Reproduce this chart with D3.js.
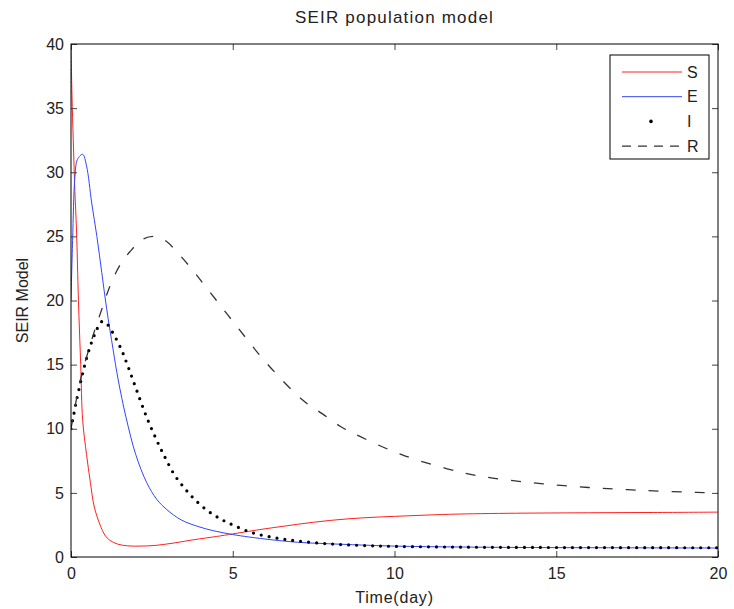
<!DOCTYPE html>
<html>
<head>
<meta charset="utf-8">
<script src="https://cdn.jsdelivr.net/npm/d3@7"></script>
<style>
  body { margin: 0; background: #fff; }
  svg text { font-family: "Liberation Sans", Arial, Helvetica, sans-serif; fill: #222; }
</style>
</head>
<body>
<div id="chart"></div>
<script>
// [time (day), value]
const sData = [[0,40],[0.03,36],[0.07,32.5],[0.12,28.5],[0.17,25.5],[0.23,20],[0.3,15],[0.36,10.7],
  [0.48,8.0],[0.6,5.8],[0.72,3.9],[0.9,2.5],[1.05,1.7],[1.2,1.3],[1.45,1.0],[1.75,0.87],[2.1,0.85],
  [2.6,0.9],[3.2,1.1],[3.8,1.35],[4.5,1.6],[5,1.8],[6,2.2],[7,2.55],[8,2.85],[9,3.05],[10,3.17],
  [11,3.27],[12,3.35],[14,3.42],[16,3.45],[18,3.47],[20,3.5]];
const eData = [[0,20],[0.05,24.7],[0.12,29.6],[0.2,31.0],[0.36,31.4],[0.48,30.5],[0.64,27.6],[0.8,25.0],
  [0.95,22.2],[1.1,19.4],[1.3,16.2],[1.46,13.8],[1.7,10.9],[2.0,8.0],[2.34,5.8],[2.65,4.5],[2.96,3.7],
  [3.4,2.9],[3.9,2.4],[4.4,2.05],[5,1.75],[5.5,1.56],[6.25,1.33],[7,1.15],[8.3,1.0],[10,0.85],
  [12,0.78],[14,0.74],[17,0.72],[20,0.7]];
const iData = [[0,10],[0.07,10.9],[0.17,12.2],[0.33,14.0],[0.45,15.2],[0.59,16.4],[0.74,17.4],[0.95,18.35],
  [1.1,18.2],[1.31,17.4],[1.57,16.1],[1.77,14.8],[2.03,13.0],[2.34,10.9],[2.65,9.1],[2.9,7.8],[3.2,6.4],
  [3.5,5.4],[3.8,4.55],[4.2,3.65],[4.6,3.0],[5.0,2.5],[5.6,1.9],[6.3,1.5],[7,1.25],[8,1.02],[9,0.9],
  [10,0.83],[12,0.77],[15,0.74],[20,0.72]];
const rData = [[0,10],[0.3,13.9],[0.6,16.6],[0.8,18.2],[0.95,19.3],[1.2,21.1],[1.5,22.7],[1.82,23.8],
  [2.2,24.75],[2.55,25.0],[2.9,24.7],[3.27,23.8],[3.75,22.4],[4.25,20.8],[5.12,18.0],[6.05,15.1],
  [7.18,12.2],[7.75,11.2],[8.32,10.2],[8.93,9.4],[10.2,8.0],[11.6,6.9],[12.54,6.35],[13.5,6.0],
  [14.6,5.7],[16,5.42],[16.97,5.28],[18,5.16],[19.34,5.04],[20,5.0]];

const seriesNames = ["S", "E", "I", "R"];
const xTicks = [0, 5, 10, 15, 20];
const yTicks = [0, 5, 10, 15, 20, 25, 30, 35, 40];

const width = 734, height = 609;
const margin = { left: 71, right: 16, top: 44, bottom: 52 };
const iw = width - margin.left - margin.right;
const ih = height - margin.top - margin.bottom;

const svg = d3.select("#chart").append("svg")
    .attr("width", width)
    .attr("height", height);
const g = svg.append("g")
    .attr("transform", `translate(${margin.left},${margin.top})`);

const x = d3.scaleLinear().domain([0, 20]).range([0, iw]);
const y = d3.scaleLinear().domain([0, 40]).range([ih, 0]);

// clip so curves stay inside the axes box
svg.append("defs").append("clipPath").attr("id", "clip")
    .append("rect").attr("width", iw).attr("height", ih);

const line = d3.line()
    .x(d => x(d[0]))
    .y(d => y(d[1]))
    .curve(d3.curveCatmullRom.alpha(0.5));

const styles = [
    { data: sData, stroke: "#ff2020", width: 1, dash: null, cap: "butt" },
    { data: eData, stroke: "#3344ff", width: 1, dash: null, cap: "butt" },
    { data: iData, stroke: "#000", width: 3.2, dash: "0,8", cap: "round" },
    { data: rData, stroke: "#333", width: 1.3, dash: "10,13", cap: "butt" }
];

const plot = g.append("g").attr("clip-path", "url(#clip)");
styles.forEach(s => {
    plot.append("path")
        .datum(s.data)
        .attr("d", line)
        .attr("fill", "none")
        .attr("stroke", s.stroke)
        .attr("stroke-width", s.width)
        .attr("stroke-linecap", s.cap)
        .attr("stroke-dasharray", s.dash);
});

// axes: ticks point inward, labels on left and bottom only
const tickLen = 6;
g.append("g")
    .attr("transform", `translate(0,${ih})`)
    .call(d3.axisBottom(x).tickValues(xTicks).tickSizeInner(-tickLen).tickSizeOuter(0).tickPadding(11))
    .call(a => a.select(".domain").remove())
    .call(a => a.selectAll("text").attr("font-size", 16));
g.append("g")
    .call(d3.axisTop(x).tickValues(xTicks).tickSizeInner(-tickLen).tickSizeOuter(0).tickFormat(""))
    .call(a => a.select(".domain").remove());
g.append("g")
    .call(d3.axisLeft(y).tickValues(yTicks).tickSizeInner(-tickLen).tickSizeOuter(0).tickPadding(7))
    .call(a => a.select(".domain").remove())
    .call(a => a.selectAll("text").attr("font-size", 16));
g.append("g")
    .attr("transform", `translate(${iw},0)`)
    .call(d3.axisRight(y).tickValues(yTicks).tickSizeInner(-tickLen).tickSizeOuter(0).tickFormat(""))
    .call(a => a.select(".domain").remove());
g.selectAll(".tick line").attr("stroke", "#444");

g.append("rect")
    .attr("width", iw)
    .attr("height", ih)
    .attr("fill", "none")
    .attr("stroke", "#000")
    .attr("stroke-width", 1);

// titles
svg.append("text")
    .attr("x", margin.left + iw / 2)
    .attr("y", 23)
    .attr("text-anchor", "middle")
    .attr("font-size", 17)
    .attr("letter-spacing", 1.2)
    .text("SEIR population model");
svg.append("text")
    .attr("x", margin.left + iw / 2)
    .attr("y", 603)
    .attr("text-anchor", "middle")
    .attr("font-size", 16)
    .attr("letter-spacing", 0.8)
    .text("Time(day)");
svg.append("text")
    .attr("transform", `translate(28,${margin.top + ih / 2}) rotate(-90)`)
    .attr("text-anchor", "middle")
    .attr("font-size", 16)
    .text("SEIR Model");

// legend
const lg = svg.append("g").attr("transform", "translate(610,55)");
lg.append("rect")
    .attr("width", 99)
    .attr("height", 104)
    .attr("fill", "#fff")
    .attr("stroke", "#000");
seriesNames.forEach((name, i) => {
    const s = styles[i];
    const yy = 17 + i * 24.7;
    if (name === "I") {
        lg.append("circle")
            .attr("cx", 41)
            .attr("cy", yy)
            .attr("r", 1.8)
            .attr("fill", "#000");
    } else {
        lg.append("line")
            .attr("x1", 12).attr("x2", 72)
            .attr("y1", yy).attr("y2", yy)
            .attr("stroke", s.stroke)
            .attr("stroke-width", s.width)
            .attr("stroke-dasharray", name === "R" ? "9,7" : null);
    }
    lg.append("text")
        .attr("x", 77)
        .attr("y", yy)
        .attr("dy", "0.36em")
        .attr("font-size", 16)
        .text(name);
});
</script>
</body>
</html>
